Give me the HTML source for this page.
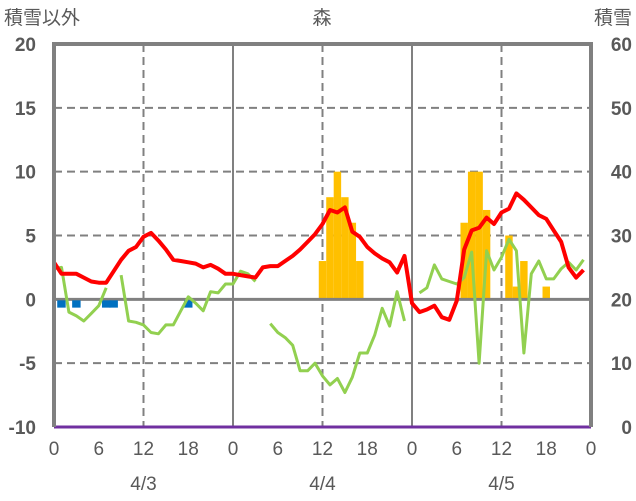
<!DOCTYPE html>
<html><head><meta charset="utf-8"><style>
body{margin:0;background:#fff;}
svg{display:block;font-family:"Liberation Sans","Noto Sans CJK JP",sans-serif;}
</style></head><body>
<svg id="chart" width="636" height="501" viewBox="0 0 636 501" xmlns="http://www.w3.org/2000/svg">
<text x="4" y="24" font-size="19" fill="#595959">積雪以外</text>
<text x="322" y="24" font-size="19" fill="#595959" text-anchor="middle">森</text>
<text x="632" y="24" font-size="19" fill="#595959" text-anchor="end">積雪</text>
<g id="grid"></g><g id="bars"></g><g id="lines"></g><g id="axes"></g><g id="labels"></g>
</svg>
<script>
const yTicks=[20,15,10,5,0,-5,-10];
const y2Ticks=[60,50,40,30,20,10,0];
const xTickLabels=["0","6","12","18","0","6","12","18","0","6","12","18","0"];
const dateLabels=["4/3","4/4","4/5"];
const redTemp=[2.9,2.0,2.0,2.0,1.7,1.4,1.3,1.3,2.2,3.1,3.8,4.1,4.9,5.2,4.6,3.9,3.1,3.0,2.9,2.8,2.5,2.7,2.4,2.0,
2.0,1.9,1.8,1.7,2.5,2.6,2.6,3.0,3.4,3.9,4.5,5.1,5.9,7.0,6.8,7.2,5.3,4.9,4.1,3.6,3.2,2.9,2.1,3.4,
-0.3,-1.0,-0.8,-0.5,-1.4,-1.6,-0.1,3.9,5.4,5.6,6.4,5.9,6.8,7.1,8.3,7.8,7.2,6.6,6.3,5.4,4.5,2.5,1.7,2.3];
const greenSeries=[2.4,2.5,-1.0,-1.3,-1.7,-1.1,-0.5,0.9,null,1.9,-1.7,-1.8,-2.0,-2.6,-2.7,-2.0,-2.0,-0.9,0.2,-0.3,-0.9,0.6,0.5,1.2,
1.2,2.2,2.0,1.4,null,-1.9,-2.6,-3.0,-3.6,-5.6,-5.6,-5.0,-6.0,-6.7,-6.2,-7.3,-6.1,-4.2,-4.2,-2.8,-0.7,-2.1,0.6,-1.7,
null,0.5,0.9,2.7,1.6,1.4,1.2,1.7,3.7,-5.0,3.8,2.3,3.3,4.7,3.8,-4.2,2.0,3.0,1.6,1.6,2.4,2.9,2.3,3.1];
const snowHours=[36,37,38,39,40,41,55,56,57,58,61,62,63,66];
const snowValues=[3,8,10,8,6,3,6,10,10,7,5,1,3,1];
const blueHours=[1,3,7,8,18];
const blueValues=[-0.65,-0.65,-0.65,-0.65,-0.65];
const X0=54,X1=591,Y0=44,Y1=427;
const xs=h=>X0+(X1-X0)*h/72;
const ys=v=>Y1-(Y1-Y0)*(v+10)/30;
const NS="http://www.w3.org/2000/svg";
function mk(tag,attrs,parent){const e=document.createElementNS(NS,tag);for(const k in attrs)e.setAttribute(k,attrs[k]);document.getElementById(parent).appendChild(e);return e;}
[15,10,5,-5].forEach(v=>{const l=mk('line',{x1:X0,x2:X1,y1:ys(v),y2:ys(v),stroke:'#808080','stroke-width':2,'stroke-dasharray':'8,5'},'grid');

});
[12,36,60].forEach(h=>{const l=mk('line',{x1:xs(h),x2:xs(h),y1:Y0,y2:Y1,stroke:'#808080','stroke-width':2,'stroke-dasharray':'8,5'},'grid');

});
[24,48].forEach(h=>{const l=mk('line',{x1:xs(h),x2:xs(h),y1:Y0,y2:Y1,stroke:'#808080','stroke-width':2},'grid');

});
const bw=(X1-X0)/72;
snowHours.forEach((h,i)=>{const v=snowValues[i];const r=mk('rect',{x:xs(h)-bw/2,y:ys(v),width:bw,height:ys(0)-ys(v),fill:'#FFC000'},'bars');

});
const zl=mk('line',{x1:X0,x2:X1,y1:ys(0),y2:ys(0),stroke:'#808080','stroke-width':3},'bars');


blueHours.forEach((h,i)=>{const v=blueValues[i];const r=mk('rect',{x:xs(h)-bw/2-0.5,y:ys(0)+1,width:bw+1,height:ys(v)-ys(0)-1,fill:'#0070C0'},'bars');

});
function pathOf(arr){let d='',pen=false;arr.forEach((v,h)=>{if(v===null){pen=false;return;}d+=(pen?'L':'M')+xs(h).toFixed(1)+','+ys(v).toFixed(1);pen=true;});return d;}
const g=mk('path',{d:pathOf(greenSeries),fill:'none',stroke:'#92D050','stroke-width':3,'stroke-linejoin':'round'},'lines');


const r=mk('path',{d:pathOf(redTemp),fill:'none',stroke:'#FF0000','stroke-width':4,'stroke-linejoin':'round'},'lines');


const p=mk('line',{x1:X0,x2:X1,y1:Y1,y2:Y1,stroke:'#7030A0','stroke-width':3},'axes');


const fr=mk('path',{d:`M${X0},${Y1}V${Y0}H${X1}V${Y1}`,fill:'none',stroke:'#808080','stroke-width':4},'axes');


yTicks.forEach(v=>{const t=mk('text',{x:36,y:ys(v)+7,'font-size':19,'font-weight':'bold',fill:'#595959','text-anchor':'end'},'labels');t.textContent=v;

});
y2Ticks.forEach((v,i)=>{const t=mk('text',{x:632,y:ys(yTicks[i])+7,'font-size':19,'font-weight':'bold',fill:'#595959','text-anchor':'end'},'labels');t.textContent=v;

});
xTickLabels.forEach((s,i)=>{const t=mk('text',{x:xs(i*6),y:455,'font-size':19,fill:'#595959','text-anchor':'middle'},'labels');t.textContent=s;

});
dateLabels.forEach((s,i)=>{const t=mk('text',{x:xs(12+24*i),y:490,'font-size':19,fill:'#595959','text-anchor':'middle'},'labels');t.textContent=s;

});
</script>
</body></html>
